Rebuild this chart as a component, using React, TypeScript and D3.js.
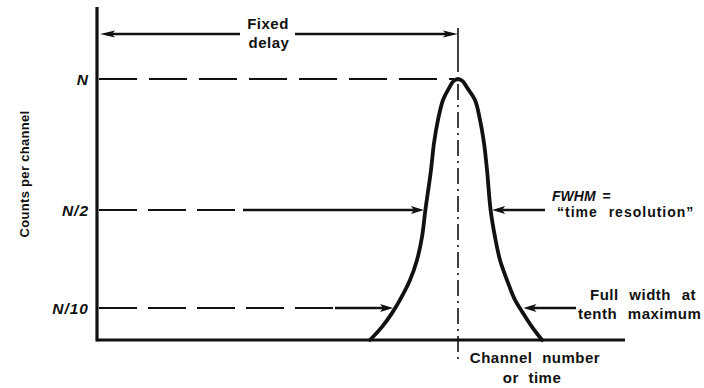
import React from "react";
import * as d3 from "d3";

// Timing spectrum: counts per channel versus channel number
const channels = [
  68.25, 71.25, 73.75, 75.75, 78.25, 80, 81.25, 82.1, 83.5, 84.25, 85.25, 86.5, 88, 89.1,
  90.25, 91.4, 92.6, 94.5, 95.75, 96.75, 97.5, 98.4, 99.5, 100.75, 102.5, 104.5, 106.5, 108.75, 111.25,
];
const counts = [
  0, 0.041, 0.084, 0.133, 0.214, 0.296, 0.39, 0.5, 0.653, 0.756, 0.844, 0.92, 0.965, 0.992,
  1, 0.992, 0.965, 0.92, 0.844, 0.756, 0.653, 0.5, 0.39, 0.296, 0.214, 0.133, 0.084, 0.041, 0,
];
const levelValues = [1, 0.5, 0.1];
const levelLabels = ["N", "N/2", "N/10"];
const peakChannel = 90.25;
const channelDomain = [0, 132];

const FONT = "'Liberation Sans', Arial, Helvetica, sans-serif";

// where the curve crosses a given level, searching from the left or the right
function crossing(level: number, fromRight: boolean): number {
  const n = channels.length;
  if (!fromRight) {
    for (let i = 0; i < n - 1; i++) {
      const a = counts[i], b = counts[i + 1];
      if (a <= level && b >= level) {
        const t = (level - a) / (b - a || 1);
        return channels[i] + t * (channels[i + 1] - channels[i]);
      }
    }
  } else {
    for (let i = n - 1; i > 0; i--) {
      const a = counts[i], b = counts[i - 1];
      if (a <= level && b >= level) {
        const t = (level - a) / (b - a || 1);
        return channels[i] + t * (channels[i - 1] - channels[i]);
      }
    }
  }
  return peakChannel;
}

function Arrow({ x1, x2, y, head = 13, half = 4, dash }: { x1: number; x2: number; y: number; head?: number; half?: number; dash?: number }) {
  // shaft from x1 to the tip at x2, optionally dashed up to `dash`
  const dir = x2 > x1 ? 1 : -1;
  const base = x2 - dir * head;
  const notch = x2 - dir * (head - 3);
  const segs = [];
  if (dash !== undefined) {
    segs.push(<line key="d" x1={x1} x2={dash} y1={y} y2={y} stroke="#111" strokeWidth={2.2} strokeDasharray="38 11" />);
    segs.push(<line key="s" x1={dash} x2={notch} y1={y} y2={y} stroke="#111" strokeWidth={2.4} />);
  } else {
    segs.push(<line key="s" x1={x1} x2={notch} y1={y} y2={y} stroke="#111" strokeWidth={2.4} />);
  }
  return (
    <g>
      {segs}
      <path d={`M${x2},${y} L${base},${y - half} L${notch},${y} L${base},${y + half} Z`} fill="#111" />
    </g>
  );
}

export default function App() {
  const width = 704, height = 388;
  const x = d3.scaleLinear().domain(channelDomain).range([97, 625]);
  const y = d3.scaleLinear().domain([0, 0.1, 0.5, 1]).range([340, 308, 210, 79]);

  const pts: [number, number][] = channels.map((c, i) => [c, counts[i]]);
  const line = d3
    .line<[number, number]>()
    .x((d) => x(d[0]))
    .y((d) => y(d[1]))
    .curve(d3.curveCatmullRom.alpha(0.5));

  const axisX = x(channelDomain[0]);
  const baseY = y(0);
  const peakX = x(peakChannel);
  const delayY = 34;

  const yN = y(levelValues[0]);
  const yHalf = y(levelValues[1]);
  const yTenth = y(levelValues[2]);
  const halfL = x(crossing(levelValues[1], false)) - 1.5;
  const halfR = x(crossing(levelValues[1], true)) + 1.5;
  const tenthL = x(crossing(levelValues[2], false)) - 1.5;
  const tenthR = x(crossing(levelValues[2], true)) + 3;

  const textStyle = { fontFamily: FONT, fontWeight: 700, fill: "#111" } as const;

  return (
    <svg width={width} height={height} style={{ position: "absolute", left: 0, top: 0, background: "#fff" }}>
      <rect width={width} height={height} fill="#fff" />

      {/* axes */}
      <line x1={axisX} x2={axisX} y1={7} y2={baseY + 1.5} stroke="#111" strokeWidth={3.2} />
      <line x1={axisX} x2={x(channelDomain[1])} y1={baseY} y2={baseY} stroke="#111" strokeWidth={2.8} />

      {/* level labels */}
      {levelValues.map((v, i) => (
        <text key={levelLabels[i]} x={89} y={y(v) + 6} textAnchor="end" fontSize={15.5} fontStyle="italic" letterSpacing={1} style={textStyle}>
          {levelLabels[i]}
        </text>
      ))}

      {/* dashed guide at peak height */}
      <line x1={axisX + 2} x2={peakX - 4} y1={yN} y2={yN} stroke="#111" strokeWidth={2.2} strokeDasharray="38 12" />

      {/* center line through the peak */}
      <line x1={peakX} x2={peakX} y1={28} y2={72} stroke="#111" strokeWidth={1.6} />
      <line x1={peakX} x2={peakX} y1={84} y2={362} stroke="#111" strokeWidth={1.6} strokeDasharray="16 5 2 5" />

      {/* fixed delay dimension */}
      <Arrow x1={240} x2={axisX + 3} y={delayY} head={15} half={3.5} />
      <Arrow x1={295} x2={peakX} y={delayY} head={15} half={3.5} />
      <text x={268} y={29} textAnchor="middle" fontSize={15} letterSpacing={0.5} style={textStyle}>Fixed</text>
      <text x={269} y={48} textAnchor="middle" fontSize={15} letterSpacing={0.5} style={textStyle}>delay</text>

      {/* half maximum arrows */}
      <Arrow x1={axisX + 2} x2={halfL} y={yHalf} dash={243} />
      <Arrow x1={545} x2={halfR} y={yHalf} />

      {/* tenth maximum arrows */}
      <Arrow x1={axisX + 2} x2={tenthL} y={yTenth} dash={335} />
      <Arrow x1={576} x2={tenthR} y={yTenth} />

      {/* the peak */}
      <path d={line(pts) ?? ""} fill="none" stroke="#111" strokeWidth={3.8} strokeLinejoin="round" strokeLinecap="round" />

      {/* annotations */}
      <text x={552} y={201} fontSize={14} fontStyle="italic" style={textStyle}>
        FWHM<tspan dx={7} fontStyle="normal">=</tspan>
      </text>
      <text x={557} y={217} fontSize={14} letterSpacing={1} wordSpacing={6} style={textStyle}>
        “time resolution”
      </text>
      <text x={590} y={300} fontSize={15} letterSpacing={0.5} wordSpacing={6} style={textStyle}>
        Full width at
      </text>
      <text x={578} y={319} fontSize={15} letterSpacing={0.5} wordSpacing={6} style={textStyle}>
        tenth maximum
      </text>
      <text x={535} y={363} textAnchor="middle" fontSize={15} letterSpacing={0.5} wordSpacing={5} style={textStyle}>
        Channel number
      </text>
      <text x={532} y={383} textAnchor="middle" fontSize={15} letterSpacing={0.5} wordSpacing={5} style={textStyle}>
        or time
      </text>
      <text
        transform={`translate(29,174) rotate(-90)`}
        textAnchor="middle"
        fontSize={13}
        letterSpacing={0.3}
        style={textStyle}
      >
        Counts per channel
      </text>
    </svg>
  );
}
